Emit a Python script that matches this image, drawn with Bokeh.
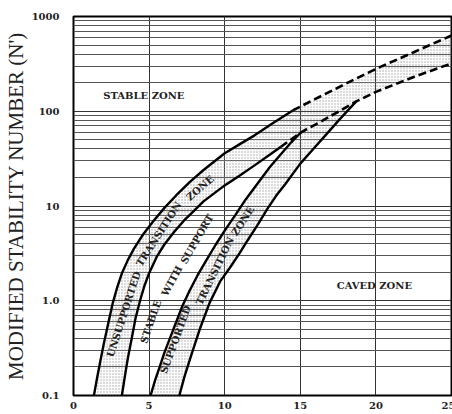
from bokeh.plotting import figure
from bokeh.models import Range1d, FixedTicker, CustomJSTickFormatter, Label
from bokeh.embed import file_html
from bokeh.resources import INLINE

# ---- data (x = hydraulic radius, y = N') ----
# upper boundary of the unsupported transition zone (solid part)
c1_x = [1.35, 1.55, 1.75, 2.0, 2.3, 2.6, 2.9, 3.2, 3.6, 4.0, 4.6, 5.3, 6.0, 6.8, 7.7, 8.6, 10.0, 11.0, 12.0, 13.2, 14.5]
c1_y = [0.1, 0.15, 0.22, 0.35, 0.58, 0.95, 1.4, 1.95, 2.7, 3.55, 5.0, 7.0, 9.5, 13, 18, 24, 36, 45, 56, 75, 102]
# its dashed extension
up_x = [14.5, 16.0, 18.0, 20.0, 22.5, 25.0]
up_y = [102, 135, 195, 280, 420, 630]
# lower boundary of the unsupported transition zone (solid part)
c2_x = [3.2, 3.4, 3.6, 3.85, 4.1, 4.4, 4.7, 5.0, 5.5, 6.0, 6.6, 7.3, 8.0, 8.6, 9.3, 10.0, 11.0, 12.0, 13.0, 13.7]
c2_y = [0.1, 0.16, 0.25, 0.4, 0.65, 1.0, 1.45, 1.95, 2.9, 3.9, 5.2, 7.0, 9.0, 11.2, 13.6, 16.5, 21, 27, 35, 42]
# its dashed extension
lo_x = [13.7, 15.05, 16.5, 18.7, 20.0, 22.5, 25.0]
lo_y = [42, 60, 80, 127, 160, 230, 320]
# upper boundary of the supported transition zone
c3_x = [5.1, 5.4, 5.7, 6.0, 6.4, 6.8, 7.2, 7.7, 8.2, 8.8, 9.4, 10.0, 10.7, 11.4, 12.2, 13.0, 13.7, 14.4, 15.05]
c3_y = [0.1, 0.145, 0.2, 0.28, 0.41, 0.6, 0.88, 1.3, 1.85, 2.7, 3.9, 5.5, 8.0, 11.8, 17.5, 26, 35, 47, 60]
# lower boundary of the supported transition zone
c4_x = [7.0, 7.35, 7.8, 8.35, 9.0, 9.7, 10.4, 11.0, 11.5, 12.2, 12.8, 13.4, 14.0, 15.0, 15.8, 16.5, 17.6, 18.7]
c4_y = [0.1, 0.16, 0.27, 0.5, 0.95, 1.6, 2.3, 3.2, 4.3, 6.4, 9.2, 12.8, 17, 28, 39, 52, 82, 127]

x_ticks = [0, 5, 10, 15, 20, 25]
y_ticks = [0.1, 1, 10, 100, 1000]
y_minor = [m * d for d in [0.1, 1, 10, 100] for m in range(2, 10)]

p = figure(frame_width=378, frame_height=379,
           x_range=Range1d(0, 25), y_range=Range1d(0.1, 1000),
           y_axis_type="log", output_backend="svg", toolbar_location=None,
           min_border_left=62, min_border_right=4, min_border_top=16, min_border_bottom=19,
           background_fill_color="white", border_fill_color="white")

p.outline_line_color = "black"
p.outline_line_width = 2

p.xaxis.ticker = FixedTicker(ticks=x_ticks)
p.yaxis.ticker = FixedTicker(ticks=y_ticks, minor_ticks=y_minor)
p.yaxis.formatter = CustomJSTickFormatter(code="""
    if (tick == 1) return "1.0";
    if (tick < 1) return tick.toFixed(1);
    return tick.toFixed(0);
""")

for ax in (p.xaxis[0], p.yaxis[0]):
    ax.axis_line_color = None
    ax.major_tick_line_color = None
    ax.minor_tick_line_color = None
    ax.major_tick_out = 0
    ax.major_tick_in = 0
    ax.major_label_text_font = "DejaVu Serif"
    ax.major_label_text_font_style = "bold"
    ax.major_label_text_font_size = "10px"
    ax.major_label_text_color = "#222222"

p.yaxis.major_label_standoff = 10
p.xaxis.major_label_standoff = 6
p.yaxis.axis_label = "MODIFIED STABILITY NUMBER (N')"
p.yaxis.axis_label_text_font = "Liberation Serif"
p.yaxis.axis_label_text_font_style = "normal"
p.yaxis.axis_label_text_font_size = "21px"
p.yaxis.axis_label_text_color = "#222222"
p.yaxis.axis_label_standoff = 1

p.xgrid.grid_line_color = "#333333"
p.xgrid.grid_line_width = 1
p.ygrid.grid_line_color = "#333333"
p.ygrid.grid_line_width = 1
p.ygrid.minor_grid_line_color = "#555555"
p.ygrid.minor_grid_line_width = 1

# shaded zones
unsup_x = c1_x + up_x[1:] + (c2_x + lo_x[1:])[::-1]
unsup_y = c1_y + up_y[1:] + (c2_y + lo_y[1:])[::-1]
sup_x = c3_x + lo_x[2:4] + c4_x[:-1][::-1]
sup_y = c3_y + lo_y[2:4] + c4_y[:-1][::-1]
for xs, ys in ((unsup_x, unsup_y), (sup_x, sup_y)):
    p.patch(xs, ys, fill_color="#cccccc", fill_alpha=0.08, line_alpha=0,
            hatch_pattern="dot", hatch_color="#999999", hatch_scale=3,
            hatch_weight=0.5, hatch_alpha=0.8)

# boundary lines
for xs, ys in ((c1_x, c1_y), (c2_x, c2_y), (c3_x, c3_y), (c4_x, c4_y)):
    p.line(xs, ys, line_color="black", line_width=2.4)
for xs, ys in ((up_x, up_y), (lo_x, lo_y)):
    p.line(xs, ys, line_color="black", line_width=2.6, line_dash="8 4")

def lab(x, y, text, angle=0, size="10px"):
    p.add_layout(Label(x=x, y=y, text=text, angle=angle, angle_units="deg",
                       text_font="DejaVu Serif", text_font_style="bold",
                       text_font_size=size, text_color="#222222",
                       text_align="center", text_baseline="middle"))

lab(4.65, 145, "STABLE ZONE")
lab(19.9, 1.46, "CAVED ZONE")
lab(3.32, 0.72, "UNSUPPORTED", 72)
lab(5.64, 5.06, "TRANSITION", 57)
lab(8.37, 15.5, "ZONE", 41)
lab(5.11, 0.60, "STABLE", 71)
lab(6.51, 1.62, "WITH", 62)
lab(8.17, 4.49, "SUPPORT", 60)
lab(6.75, 0.39, "SUPPORTED", 70)
lab(9.35, 2.06, "TRANSITION", 64)
lab(11.2, 6.95, "ZONE", 57)

open("out.html", "w").write(file_html(p, INLINE))
